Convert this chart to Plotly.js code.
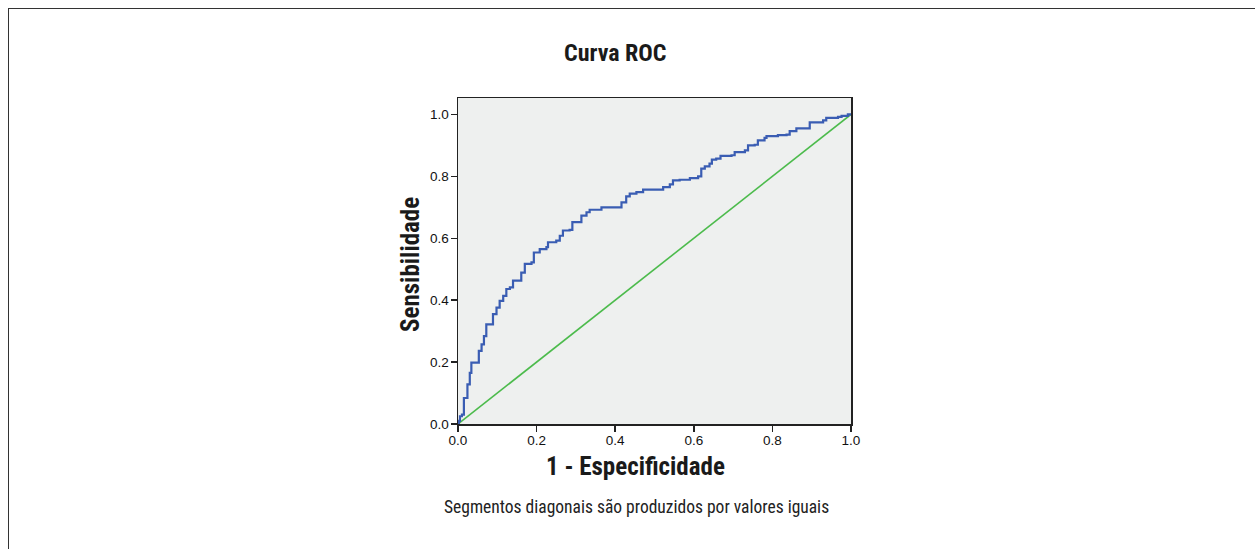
<!DOCTYPE html>
<html>
<head>
<meta charset="utf-8">
<script src="https://cdn.plot.ly/plotly-3.0.1.min.js"></script>
<style>
  html, body { margin: 0; padding: 0; background: #ffffff; }
  #wrap { position: relative; width: 1255px; height: 549px; overflow: hidden; }
  #frame { position: absolute; left: 8px; top: 8px; width: 1400px; height: 700px;
           border-left: 1px solid #333; border-top: 1px solid #333; pointer-events: none; }
  #chart { position: absolute; left: 0; top: 0; width: 1255px; height: 549px; }
</style>
</head>
<body>
<div id="wrap">
  <div id="chart"></div>
  <div id="frame"></div>
</div>
<script>
// ROC curve (1 - specificity, sensitivity)
const rocFPR = [0.000, 0.002, 0.005, 0.010, 0.015, 0.024, 0.030, 0.034, 0.049, 0.053, 0.060, 0.066, 0.072, 0.083, 0.089, 0.098,
  0.106, 0.115, 0.123, 0.132, 0.140, 0.144, 0.161, 0.170, 0.187, 0.193, 0.208, 0.225, 0.229, 0.250, 0.259, 0.267, 0.284,
  0.291, 0.305, 0.314, 0.327, 0.335, 0.356, 0.365, 0.405, 0.416, 0.428, 0.437, 0.454, 0.471, 0.505, 0.522, 0.539, 0.547,
  0.564, 0.590, 0.611, 0.619, 0.628, 0.640, 0.646, 0.657, 0.668, 0.696, 0.704, 0.730, 0.738, 0.755, 0.763, 0.780, 0.785,
  0.814, 0.836, 0.844, 0.861, 0.887, 0.895, 0.929, 0.937, 0.967, 0.976, 0.992, 1.000];
const rocTPR = [0.000, 0.010, 0.025, 0.030, 0.084, 0.128, 0.165, 0.198, 0.198, 0.236, 0.257, 0.284, 0.322, 0.322, 0.355, 0.376,
  0.398, 0.414, 0.436, 0.441, 0.463, 0.463, 0.489, 0.517, 0.522, 0.554, 0.565, 0.571, 0.587, 0.592, 0.608, 0.625, 0.627,
  0.652, 0.652, 0.673, 0.684, 0.692, 0.692, 0.700, 0.700, 0.716, 0.735, 0.744, 0.749, 0.757, 0.757, 0.765, 0.774, 0.787,
  0.789, 0.794, 0.800, 0.825, 0.832, 0.841, 0.854, 0.857, 0.866, 0.868, 0.878, 0.884, 0.900, 0.902, 0.916, 0.924, 0.930,
  0.933, 0.935, 0.946, 0.955, 0.955, 0.974, 0.981, 0.989, 0.992, 0.995, 1.000, 1.000];
// Reference line
const refX = [0, 1];
const refY = [0, 1];
// Tick labels
const tickVals = [0, 0.2, 0.4, 0.6, 0.8, 1.0];
const tickText = ['0.0', '0.2', '0.4', '0.6', '0.8', '1.0'];
// Texts
const chartTitle = 'Curva ROC';
const xTitle = '1 - Especificidade';
const yTitle = 'Sensibilidade';
const footNote = 'Segmentos diagonais são produzidos por valores iguais';

const condensed = '"Liberation Sans Narrow", "Roboto Condensed", "DejaVu Sans Condensed", "Arial Narrow", sans-serif';

const traces = [
  { x: refX, y: refY, type: 'scatter', mode: 'lines',
    line: { color: '#4cbb4c', width: 1.6 }, hoverinfo: 'skip', showlegend: false },
  { x: rocFPR, y: rocTPR, type: 'scatter', mode: 'lines',
    line: { color: '#3a5db3', width: 2.2, shape: 'hv' }, showlegend: false }
];

const axisCommon = {
  showgrid: false, zeroline: false, showline: true, linecolor: '#222', linewidth: 1.5,
  mirror: true, ticks: 'outside', ticklen: 6, tickwidth: 1.5, tickcolor: '#222',
  tickvals: tickVals, ticktext: tickText,
  tickfont: { family: '"Liberation Sans", Arial, sans-serif', size: 13.5, color: '#111' }
};

const layout = {
  width: 1255, height: 549,
  margin: { l: 458, r: 404, t: 98, b: 125, pad: 0 },
  paper_bgcolor: '#ffffff', plot_bgcolor: '#eef0ef',
  xaxis: Object.assign({}, axisCommon, { range: [0, 1], fixedrange: true, ticklabelstandoff: -3 }),
  yaxis: Object.assign({}, axisCommon, { range: [0, 1.053], fixedrange: true, ticklabelstandoff: -1 }),
  annotations: [
    { text: '<b>' + chartTitle + '</b>', xref: 'paper', yref: 'paper', x: (615 - 458) / 393, y: 1 + (98 - 53) / 326,
      xanchor: 'center', yanchor: 'middle', showarrow: false,
      font: { family: condensed, size: 24, color: '#1a1a1a' } },
    { text: '<b>' + xTitle + '</b>', xref: 'paper', yref: 'paper', x: (635 - 458) / 393, y: -(466 - 424) / 326,
      xanchor: 'center', yanchor: 'middle', showarrow: false,
      font: { family: condensed, size: 25, color: '#1a1a1a' } },
    { text: '<b>' + yTitle + '</b>', xref: 'paper', yref: 'paper', x: -(458 - 410) / 393, y: (424 - 265) / 326,
      xanchor: 'center', yanchor: 'middle', showarrow: false, textangle: -90,
      font: { family: condensed, size: 25, color: '#1a1a1a' } },
    { text: footNote, xref: 'paper', yref: 'paper', x: (636 - 458) / 393, y: -(507 - 424) / 326,
      xanchor: 'center', yanchor: 'middle', showarrow: false,
      font: { family: condensed, size: 17.5, color: '#222' } }
  ]
};

Plotly.newPlot('chart', traces, layout, { displayModeBar: false, staticPlot: true });
</script>
</body>
</html>
